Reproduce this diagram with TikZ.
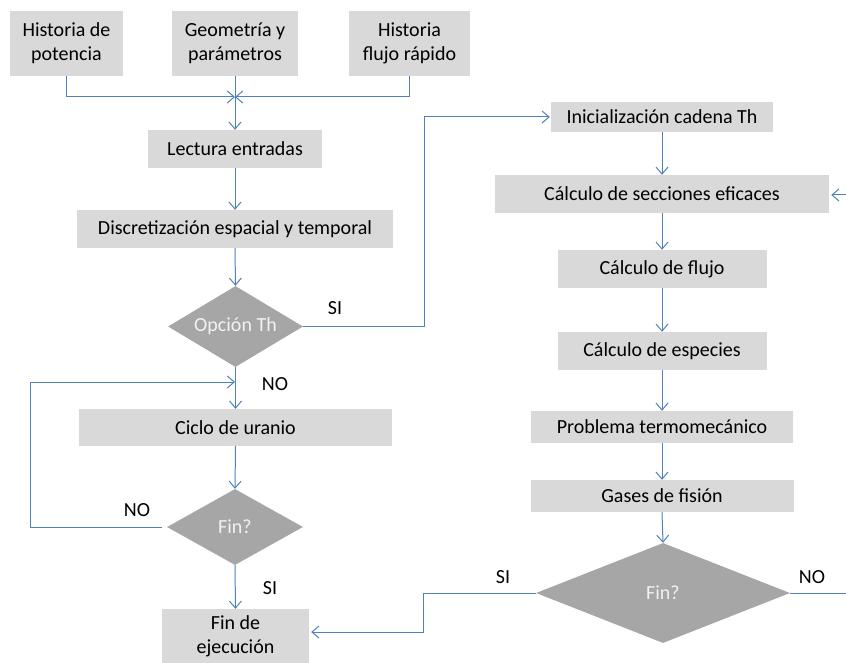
\documentclass[tikz,border=0pt]{standalone}
\usepackage{fontspec}
\setmainfont{Carlito}
\usetikzlibrary{arrows.meta,shapes.geometric}
\definecolor{boxgray}{HTML}{D9D9D9}
\definecolor{diagray}{HTML}{A6A6A6}
\definecolor{linkblue}{HTML}{4F81BD}
\definecolor{txtwhite}{HTML}{F2F2F2}
\begin{document}
\begin{tikzpicture}[x=1pt,y=-1pt,
  proc/.style={fill=boxgray, draw=none, inner sep=0pt, align=center,
    font=\fontsize{20}{24}\selectfont, text=black},
  decis/.style={diamond, aspect=1.7, fill=diagray, draw=none, inner sep=0pt,
    font=\fontsize{20}{24}\selectfont, text=txtwhite},
  lbl/.style={font=\fontsize{20}{24}\selectfont, text=black, inner sep=0pt},
  link/.style={draw=linkblue, line width=1pt},
  arr/.style={link, -{Straight Barb[length=7pt, width=12pt, line width=1pt]}}]
\useasboundingbox (0,0) rectangle (846,663);

% inputs
\node[proc, minimum width=113, minimum height=65] (hp) at (66.5,43.5) {Historia de\\potencia};
\node[proc, minimum width=126, minimum height=65] (geo) at (235,43.5) {Geometría y\\parámetros};
\node[proc, minimum width=121, minimum height=65] (hf) at (409.5,43.5) {Historia\\flujo rápido};

% left column
\node[proc, minimum width=174, minimum height=38] (lec) at (235,149) {Lectura entradas};
\node[proc, minimum width=316, minimum height=38] (disc) at (235,229) {Discretización espacial y temporal};
\node[decis, minimum width=135, minimum height=81] (op) at (235.5,326.5) {Opción Th};
\node[proc, minimum width=313, minimum height=37] (ciclo) at (235.5,427.5) {Ciclo de uranio};
\node[decis, minimum width=136, minimum height=76] (fin1) at (235,527) {Fin?};
\node[proc, minimum width=147, minimum height=54] (fej) at (235.5,636) {Fin de\\ejecución};

% right column
\node[proc, minimum width=222, minimum height=30] (ini) at (662,117) {Inicialización cadena Th};
\node[proc, minimum width=334, minimum height=38] (secc) at (662,194) {Cálculo de secciones eficaces};
\node[proc, minimum width=209, minimum height=38] (flujo) at (662,269) {Cálculo de flujo};
\node[proc, minimum width=209, minimum height=38] (esp) at (662,351) {Cálculo de especies};
\node[proc, minimum width=262, minimum height=32] (termo) at (662,427) {Problema termomecánico};
\node[proc, minimum width=263, minimum height=32] (gases) at (662,496) {Gases de fisión};
\node[decis, aspect=2.5, minimum width=254, minimum height=100] (fin2) at (663,593) {Fin?};

% labels
\node[lbl] (si1) at (335,308) {SI};
\node[lbl] (no1) at (275,384) {NO};
\node[lbl] (no2) at (137,510) {NO};
\node[lbl] (si2) at (270,588) {SI};
\node[lbl] (si3) at (503,577) {SI};
\node[lbl] (no3) at (812,577) {NO};

% coordinates
\coordinate (j1) at (235,97);
\coordinate (c1) at (424,326.5);
\coordinate (c2) at (30,527);
\coordinate (c3) at (235,382);
\coordinate (c4) at (423,593);
\coordinate (e1) at (846,195);
\coordinate (e2) at (846,593);

% connectors
\draw[arr] (hp.south) |- (j1);
\draw[arr] (hf.south) |- (j1);
\draw[arr] (geo.south) -- (lec.north);
\draw[arr] (lec.south) -- (disc.north);
\draw[arr] (disc.south) -- (op.north);
\draw[arr] (op.east) -- (c1) |- ([xshift=-1pt]ini.west);
\draw[arr] (op.south) -- (ciclo.north);
\draw[arr] (ciclo.south) -- (fin1.north);
\draw[arr] ([xshift=-5pt]fin1.west) -- (c2) |- (c3);
\draw[arr] (fin1.south) -- (fej.north);

\draw[arr] (ini.south) -- (secc.north);
\draw[arr] (secc.south) -- (flujo.north);
\draw[arr] (flujo.south) -- (esp.north);
\draw[arr] (esp.south) -- (termo.north);
\draw[arr] (termo.south) -- (gases.north);
\draw[arr] (gases.south) -- (fin2.north);
\draw[arr] (e1) -- ([xshift=2pt]secc.east |- e1);
\draw[link] (fin2.east) -- (e2);
\draw[arr] (fin2.west) -- (c4) |- ([xshift=2pt,yshift=4pt]fej.east);
\end{tikzpicture}
\end{document}
